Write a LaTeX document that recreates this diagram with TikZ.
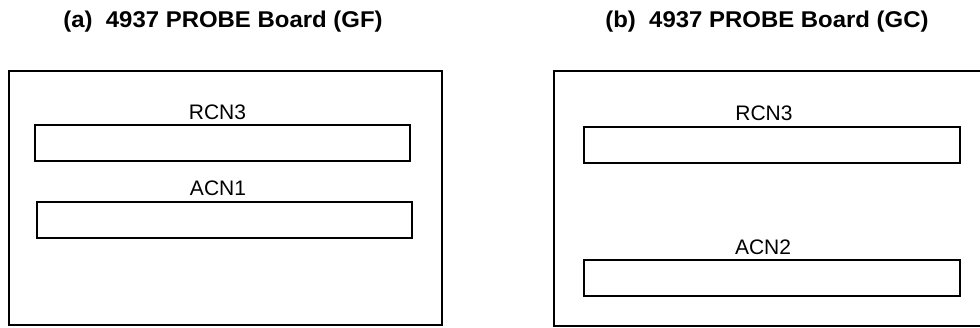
\documentclass[tikz,border=0pt]{standalone}
\usepackage{fontspec}
\setmainfont{Liberation Sans}
\begin{document}
\begin{tikzpicture}[x=1pt,y=-1pt,
  board/.style={draw=black,line width=2.6pt,rectangle,inner sep=0pt},
  conn/.style={draw=black,line width=2.8pt,rectangle,inner sep=0pt,minimum width=375pt,minimum height=36pt},
  lbl/.style={anchor=base,inner sep=0pt,font=\fontsize{21}{25}\selectfont},
  ttl/.style={anchor=base,inner sep=0pt,xscale=1.05,font=\fontsize{22.8}{27}\selectfont\bfseries}]
\useasboundingbox (0,0) rectangle (980,328);
\clip (0,0) rectangle (980,328);
% titles
\node[ttl] (ta) at (223,27.5) {(a)\ \ 4937 PROBE Board (GF)};
\node[ttl] (tb) at (767,27.5) {(b)\ \ 4937 PROBE Board (GC)};
% board a
\node[board,minimum width=433pt,minimum height=254pt] (ba) at (225.5,198) {};
\node[conn] (ra) at (222.5,143) {};
\node[lbl] (rla) at (217.5,120) {RCN3};
\node[conn] (aa) at (224.5,220) {};
\node[lbl] (ala) at (218,196) {ACN1};
% board b (extends beyond right edge)
\node[board,minimum width=460pt,minimum height=255pt] (bb) at (784,198.5) {};
\node[conn,minimum width=376pt] (rb) at (772,145) {};
\node[lbl] (rlb) at (764,121) {RCN3};
\node[conn,minimum width=376pt] (ab) at (772,278) {};
\node[lbl] (alb) at (763,255) {ACN2};
\end{tikzpicture}
\end{document}
